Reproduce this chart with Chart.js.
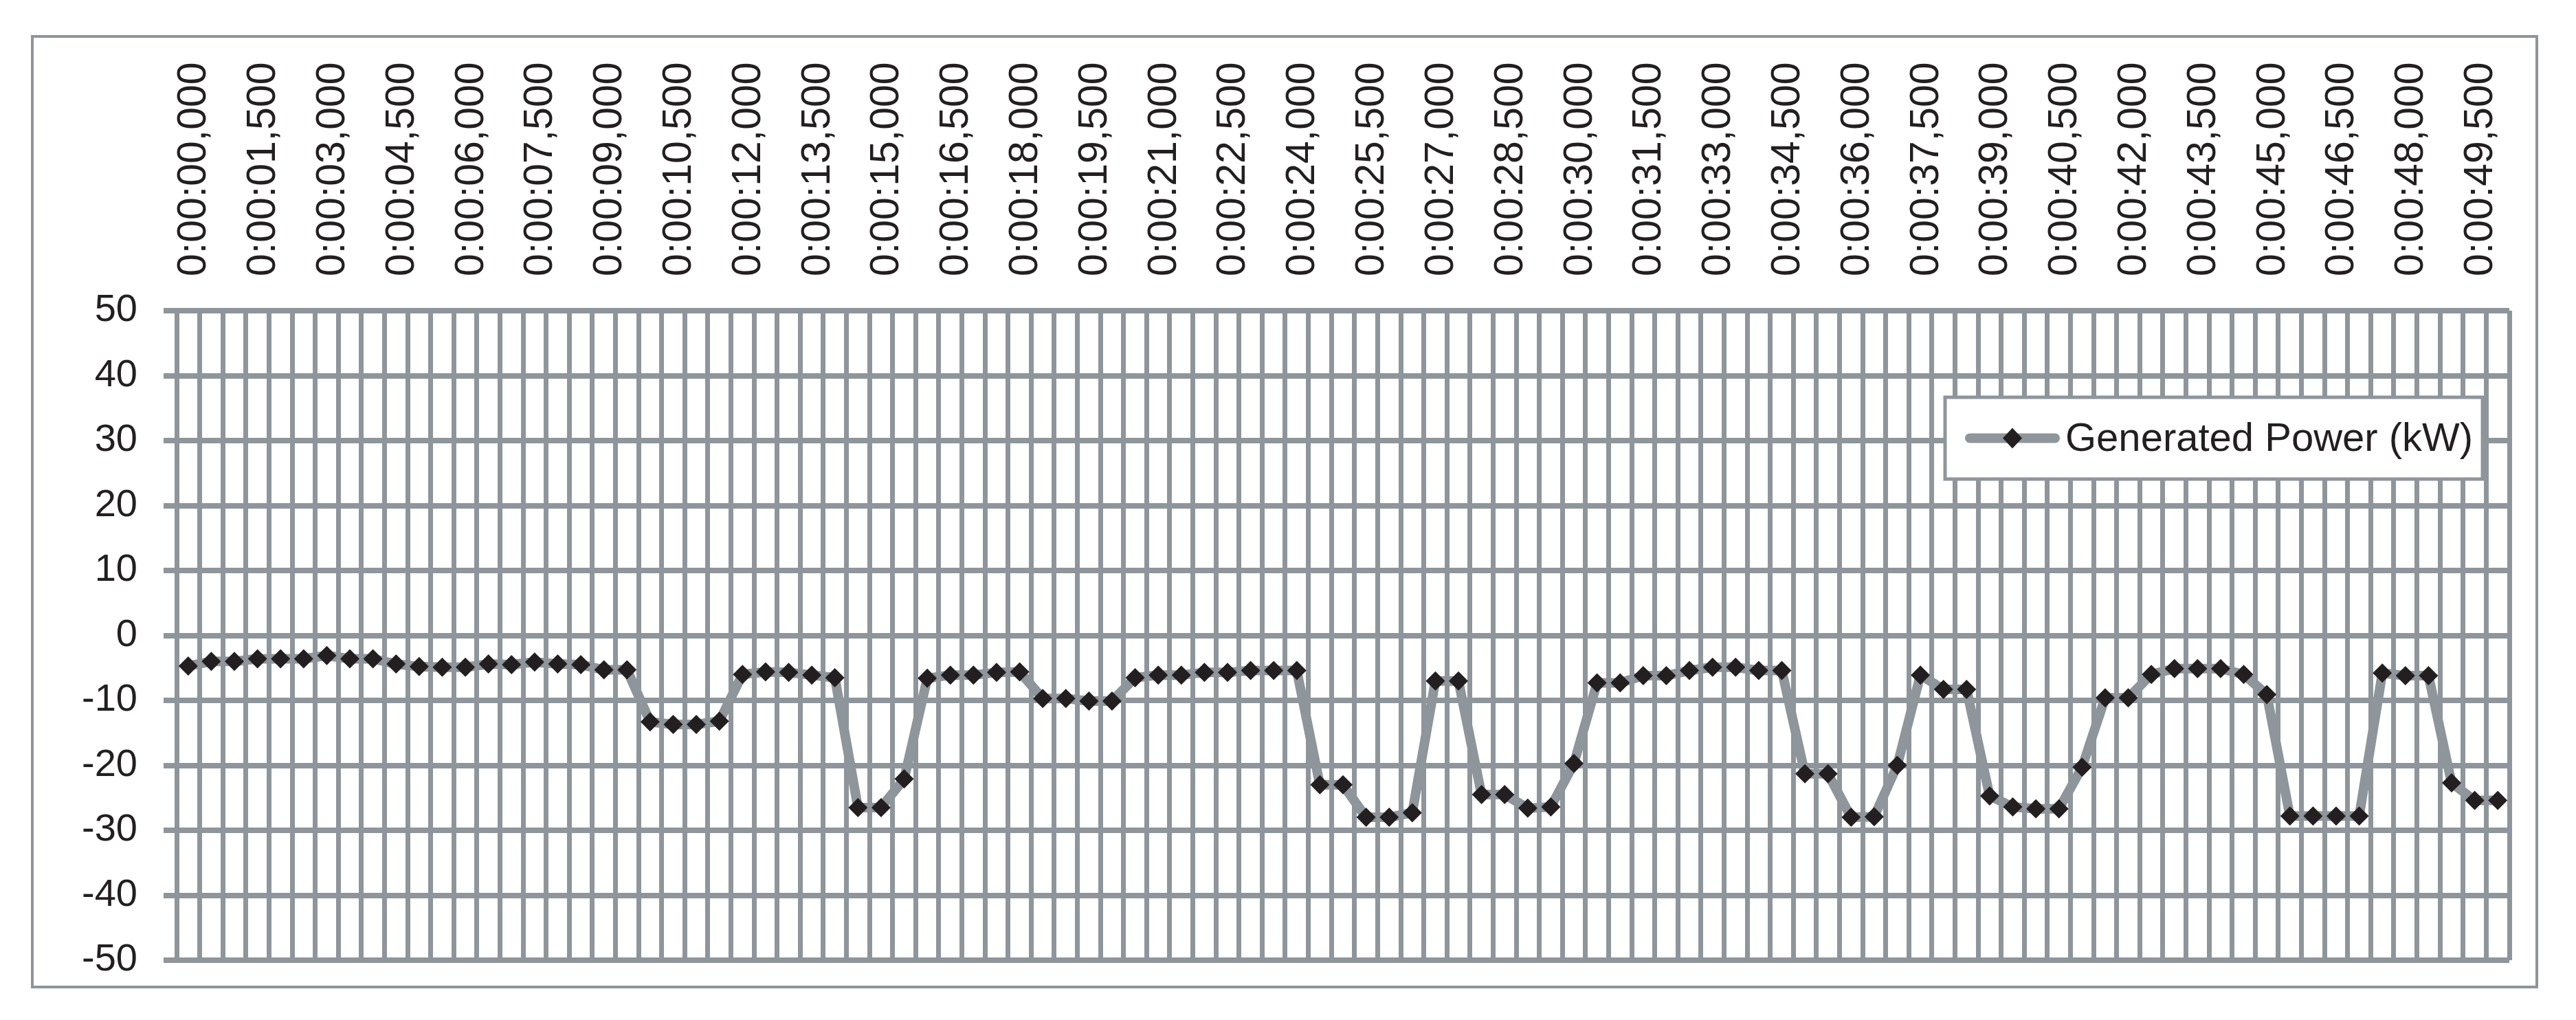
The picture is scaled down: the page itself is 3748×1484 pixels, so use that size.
<!DOCTYPE html>
<html>
<head>
<meta charset="utf-8">
<script src="https://cdn.jsdelivr.net/npm/chart.js@4.4.1/dist/chart.umd.min.js"></script>
<style>
  html, body { margin: 0; padding: 0; background: #fff; }
  canvas { display: block; }
</style>
</head>
<body>
<canvas id="powerChart" width="3748" height="1484"></canvas>
<script>
// time stamps, one every 0.5 s
const timeLabels = [
  "0:00:00,000","0:00:00,500","0:00:01,000","0:00:01,500","0:00:02,000","0:00:02,500",
  "0:00:03,000","0:00:03,500","0:00:04,000","0:00:04,500","0:00:05,000","0:00:05,500",
  "0:00:06,000","0:00:06,500","0:00:07,000","0:00:07,500","0:00:08,000","0:00:08,500",
  "0:00:09,000","0:00:09,500","0:00:10,000","0:00:10,500","0:00:11,000","0:00:11,500",
  "0:00:12,000","0:00:12,500","0:00:13,000","0:00:13,500","0:00:14,000","0:00:14,500",
  "0:00:15,000","0:00:15,500","0:00:16,000","0:00:16,500","0:00:17,000","0:00:17,500",
  "0:00:18,000","0:00:18,500","0:00:19,000","0:00:19,500","0:00:20,000","0:00:20,500",
  "0:00:21,000","0:00:21,500","0:00:22,000","0:00:22,500","0:00:23,000","0:00:23,500",
  "0:00:24,000","0:00:24,500","0:00:25,000","0:00:25,500","0:00:26,000","0:00:26,500",
  "0:00:27,000","0:00:27,500","0:00:28,000","0:00:28,500","0:00:29,000","0:00:29,500",
  "0:00:30,000","0:00:30,500","0:00:31,000","0:00:31,500","0:00:32,000","0:00:32,500",
  "0:00:33,000","0:00:33,500","0:00:34,000","0:00:34,500","0:00:35,000","0:00:35,500",
  "0:00:36,000","0:00:36,500","0:00:37,000","0:00:37,500","0:00:38,000","0:00:38,500",
  "0:00:39,000","0:00:39,500","0:00:40,000","0:00:40,500","0:00:41,000","0:00:41,500",
  "0:00:42,000","0:00:42,500","0:00:43,000","0:00:43,500","0:00:44,000","0:00:44,500",
  "0:00:45,000","0:00:45,500","0:00:46,000","0:00:46,500","0:00:47,000","0:00:47,500",
  "0:00:48,000","0:00:48,500","0:00:49,000","0:00:49,500","0:00:50,000"
];

// Generated Power (kW)
const generatedPower = [
  -4.7, -4.0, -4.0, -3.6, -3.6, -3.6, -3.1, -3.6, -3.6, -4.4,
  -4.8, -4.9, -4.9, -4.4, -4.5, -4.1, -4.4, -4.5, -5.3, -5.3,
  -13.3, -13.7, -13.7, -13.2, -6.0, -5.6, -5.7, -6.1, -6.5, -26.5,
  -26.5, -22.1, -6.6, -6.1, -6.1, -5.7, -5.6, -9.7, -9.7, -10.1,
  -10.1, -6.5, -6.1, -6.1, -5.7, -5.7, -5.4, -5.4, -5.4, -23.0,
  -23.0, -28.0, -28.0, -27.3, -7.0, -7.0, -24.5, -24.5, -26.6, -26.4,
  -19.7, -7.3, -7.3, -6.2, -6.2, -5.4, -4.9, -4.9, -5.4, -5.4,
  -21.3, -21.3, -28.0, -27.9, -20.0, -6.1, -8.3, -8.3, -24.7, -26.4,
  -26.7, -26.7, -20.3, -9.6, -9.6, -6.0, -5.1, -5.1, -5.1, -6.0,
  -9.1, -27.8, -27.8, -27.8, -27.8, -5.8, -6.2, -6.2, -22.7, -25.4,
  -25.4
];

const seriesName = "Generated Power (kW)";
const yMin = -50;
const yMax = 50;
const yStep = 10;
const labelEvery = 3;

const gray = "#8e959b";
const ink = "#231f20";
const fontFamily = "'Liberation Sans', Arial, sans-serif";

// outer frame of the chart
const frame = {
  id: "frame",
  beforeDraw(chart) {
    const ctx = chart.ctx;
    ctx.save();
    ctx.strokeStyle = gray;
    ctx.lineWidth = 4;
    ctx.strokeRect(47, 53, 3644, 1383);
    ctx.restore();
  }
};

// boxed legend sitting inside the plot, like the spreadsheet one
const boxedLegend = {
  id: "boxedLegend",
  afterDraw(chart) {
    const ctx = chart.ctx;
    const ds = chart.data.datasets[0];
    const x = 2830, y = 578, w = 782, h = 119;
    const mid = y + h / 2;
    ctx.save();
    ctx.fillStyle = "#fff";
    ctx.fillRect(x, y, w, h);
    ctx.strokeStyle = gray;
    ctx.lineWidth = 5;
    ctx.strokeRect(x, y, w, h);

    ctx.strokeStyle = ds.borderColor;
    ctx.lineWidth = ds.borderWidth;
    ctx.lineCap = "round";
    ctx.beginPath();
    ctx.moveTo(2866, mid);
    ctx.lineTo(2990, mid);
    ctx.stroke();

    ctx.fillStyle = ds.pointBackgroundColor;
    ctx.beginPath();
    ctx.moveTo(2928, mid - 15);
    ctx.lineTo(2942, mid);
    ctx.lineTo(2928, mid + 15);
    ctx.lineTo(2914, mid);
    ctx.closePath();
    ctx.fill();

    ctx.fillStyle = ink;
    ctx.font = "58px " + fontFamily;
    ctx.textAlign = "left";
    ctx.textBaseline = "alphabetic";
    ctx.fillText(ds.label, 3005, 656);
    ctx.restore();
  }
};

const ctx = document.getElementById("powerChart").getContext("2d");

new Chart(ctx, {
  type: "line",
  data: {
    labels: timeLabels,
    datasets: [{
      label: seriesName,
      data: generatedPower,
      borderColor: gray,
      borderWidth: 14,
      borderJoinStyle: "round",
      borderCapStyle: "round",
      tension: 0,
      pointStyle: "rectRot",
      pointRadius: 14,
      pointBackgroundColor: ink,
      pointBorderColor: ink,
      pointBorderWidth: 0
    }]
  },
  options: {
    responsive: false,
    devicePixelRatio: 1,
    animation: false,
    layout: {
      padding: { top: 0, left: 0, right: 97, bottom: 87 }
    },
    plugins: {
      legend: { display: false },
      tooltip: { enabled: false }
    },
    scales: {
      x: {
        type: "category",
        position: "top",
        offset: true,
        afterFit(scale) { scale.height = 452; },
        grid: {
          offset: true,
          color: gray,
          lineWidth: 7,
          drawTicks: false
        },
        border: { display: false },
        ticks: {
          autoSkip: false,
          minRotation: 90,
          maxRotation: 90,
          padding: 50,
          labelOffset: 80,
          color: ink,
          font: { family: fontFamily, size: 59 },
          callback: function(value, index) {
            return index % labelEvery === 0 ? this.getLabelForValue(value) : "";
          }
        }
      },
      y: {
        min: yMin,
        max: yMax,
        afterFit(scale) { scale.width = 257; },
        grid: {
          color: gray,
          lineWidth: 8,
          drawTicks: true,
          tickLength: 19
        },
        border: { display: false },
        ticks: {
          stepSize: yStep,
          padding: 38,
          color: ink,
          font: { family: fontFamily, size: 56 }
        }
      }
    }
  },
  plugins: [frame, boxedLegend]
});
</script>
</body>
</html>
